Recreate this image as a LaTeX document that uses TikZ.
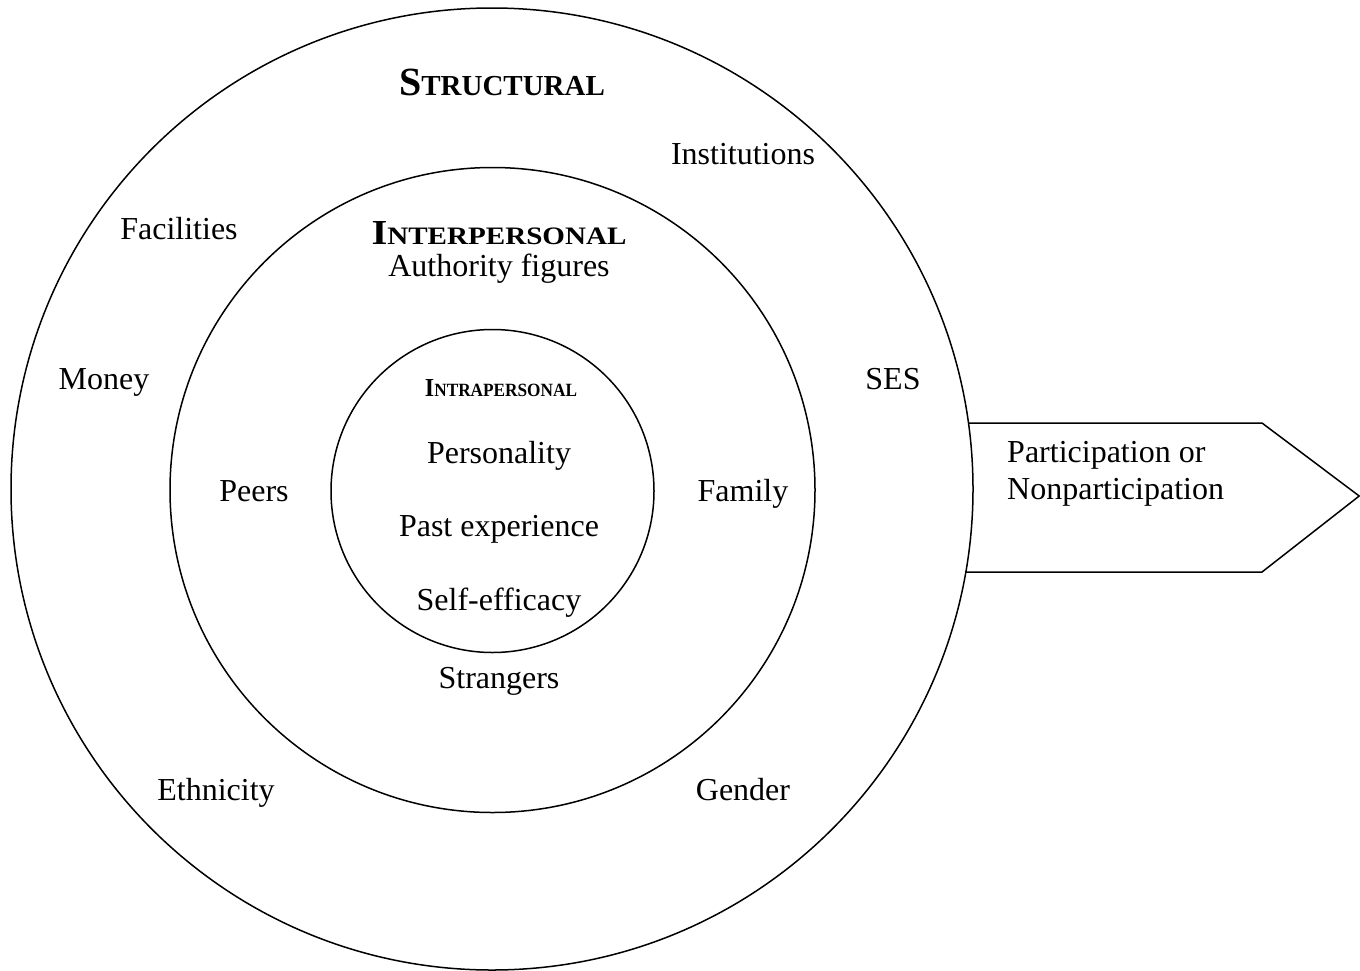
\documentclass[tikz,border=0pt]{standalone}
\usepackage{fontspec}
\setmainfont{Liberation Serif}
\usepackage{graphicx}
% faked small capitals: first letter large, rest smaller
\newcommand{\capsword}[4]{{\fontsize{#1}{#1}\selectfont #3}{\fontsize{#2}{#2}\selectfont #4}}
\begin{document}
\begin{tikzpicture}[x=1pt,y=-1pt,
  ring/.style={circle,draw,line width=1.5pt,inner sep=0pt},
  lbl/.style={anchor=base,inner sep=0pt,font=\fontsize{32}{38}\selectfont},
  head/.style={anchor=base,inner sep=0pt,font=\bfseries}]
\useasboundingbox (0,0) rectangle (1360,970);
% concentric rings
\node[ring,minimum size=962pt] (outer) at (492,489) {};
\node[ring,minimum size=645pt] (middle) at (492.5,490) {};
\node[ring,minimum size=323pt] (inner) at (492.5,491) {};
% outcome arrow leaving the outer ring
\coordinate (at) at (968.5,423);
\coordinate (ab) at (965.8,572);
\coordinate (st) at (1262,423);
\coordinate (sb) at (1262,572);
\coordinate (tip) at (1359.2,496);
\draw[line width=1.5pt,line join=miter] (at) -- (st) -- (tip) -- (sb) -- (ab);
% ring headings
\node[head] (hstruct) at (502,95) {\capsword{40}{29}{S}{TRUCTURAL}};
\node[head] (hinter) at (499,244) {\resizebox{255pt}{23pt}{\capsword{35}{25}{I}{NTERPERSONAL}}};
\node[head] (hintra) at (501,396) {\resizebox{152pt}{17pt}{\capsword{25}{18}{I}{NTRAPERSONAL}}};
% structural factors
\node[lbl] (inst) at (743,164) {Institutions};
\node[lbl] (fac) at (179,239) {Facilities};
\node[lbl] (money) at (104,389) {Money};
\node[lbl] (ses) at (893,389) {SES};
\node[lbl] (eth) at (216,800) {Ethnicity};
\node[lbl] (gender) at (743,800) {Gender};
% interpersonal factors
\node[lbl] (auth) at (499,276) {Authority figures};
\node[lbl] (peers) at (254,501) {Peers};
\node[lbl] (family) at (743,501) {Family};
\node[lbl] (strangers) at (499,688) {Strangers};
% intrapersonal factors
\node[lbl] (pers) at (499,463) {Personality};
\node[lbl] (past) at (499,536) {Past experience};
\node[lbl] (self) at (499,610) {Self-efficacy};
% outcome
\node[anchor=north west,inner sep=0pt,align=left,font=\fontsize{32}{37}\selectfont] (out) at (1007,441) {Participation or\\Nonparticipation};
\end{tikzpicture}
\end{document}
